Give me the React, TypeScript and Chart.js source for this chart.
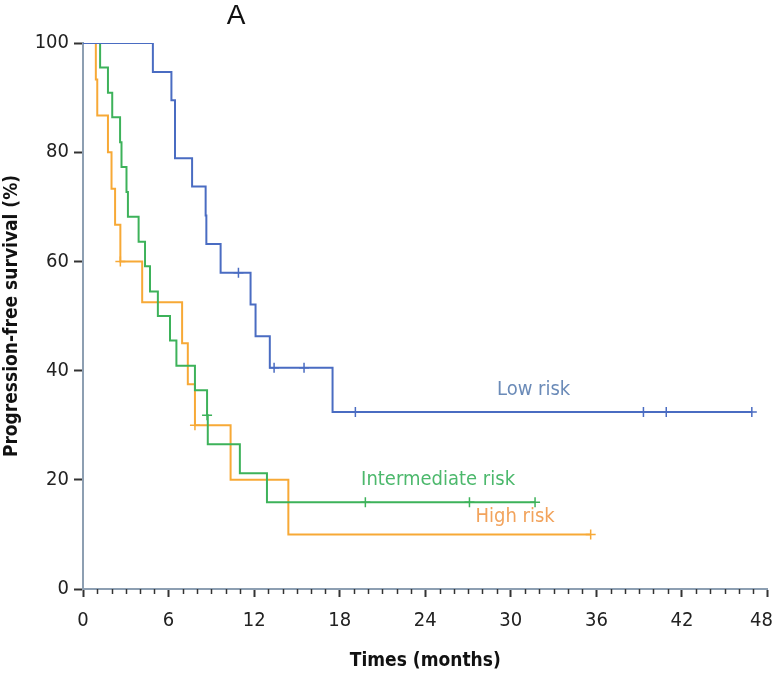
import React, { useEffect, useRef } from 'react';
import { Chart, registerables } from 'chart.js';

Chart.register(...registerables);

// ---- Data (months, % progression-free survival) ----
const lowTimes = [0, 4.9, 6.2, 6.45, 7.65, 8.6, 8.65, 9.65, 11.75, 12.1, 13.1, 17.5, 46.9];
const lowSurv = [100, 94.7, 89.5, 78.9, 73.7, 68.4, 63.2, 57.9, 52.1, 46.3, 40.5, 32.4, 32.4];
const lowCensorTimes = [10.9, 13.4, 15.5, 19.1, 39.3, 40.9, 46.9];
const lowCensorSurv = [57.9, 40.5, 40.5, 32.4, 32.4, 32.4, 32.4];

const intTimes = [0, 1.2, 1.75, 2.05, 2.6, 2.7, 3.05, 3.15, 3.9, 4.35, 4.7, 5.25, 6.1, 6.55, 7.85, 8.7, 8.75, 11.0, 12.9, 31.7];
const intSurv = [100, 95.5, 90.9, 86.4, 81.8, 77.3, 72.7, 68.2, 63.6, 59.1, 54.5, 50.0, 45.5, 40.9, 36.4, 31.8, 26.5, 21.2, 15.9, 15.9];
const intCensorTimes = [8.7, 19.8, 27.1, 31.7];
const intCensorSurv = [31.8, 15.9, 15.9, 15.9];

const highTimes = [0, 0.9, 1.0, 1.75, 2.0, 2.25, 2.62, 4.15, 6.95, 7.35, 7.85, 10.35, 14.4, 35.6];
const highSurv = [100, 93.3, 86.7, 80.0, 73.3, 66.7, 60.0, 52.5, 45.0, 37.5, 30.0, 20.0, 10.0, 10.0];
const highCensorTimes = [2.62, 7.85, 35.6];
const highCensorSurv = [60.0, 30.0, 10.0];

const seriesNames = ['Low risk', 'Intermediate risk', 'High risk'];
const seriesLabelX = [31.6, 24.9, 30.3];
const seriesLabelY = [36.4, 20.0, 13.2];

const xMajorStep = 6;
const xMax = 48;
const yMax = 100;
const yStep = 20;
const panelTitle = 'A';
const xTitle = 'Times (months)';
const yTitle = 'Progression-free survival (%)';

// ---- Styles ----
const lineColors = ['#4a6cc2', '#3db25a', '#f7a936'];
const textColors = ['#6b8bb8', '#4cb86c', '#f2a35c'];
const NARROW = "'Liberation Sans Narrow', 'DejaVu Sans Condensed', 'Roboto Condensed', sans-serif";
const TICK_SIZE = 20;
const TICK_PAD = 12;
const TICK_LEN = 8;

const toPts = (xs: number[], ys: number[]) => xs.map((x, i) => ({ x, y: ys[i] }));

const annotPlugin = {
  id: 'annot',
  afterDraw(chart: any) {
    const ctx = chart.ctx as CanvasRenderingContext2D;
    const xs = chart.scales.x;
    const ys = chart.scales.y;
    ctx.save();
    // minor ticks on x axis
    ctx.strokeStyle = '#333';
    ctx.lineWidth = 1.5;
    const yb = chart.chartArea.bottom;
    xs.ticks.forEach((t: any) => {
      if (t.value % xMajorStep !== 0) {
        const px = Math.round(xs.getPixelForValue(t.value)) + 0.5;
        ctx.beginPath();
        ctx.moveTo(px, yb);
        ctx.lineTo(px, yb + 5);
        ctx.stroke();
      }
    });
    // last x tick label, kept inside the canvas
    ctx.fillStyle = '#222';
    ctx.font = `${TICK_SIZE}px ${NARROW}`;
    ctx.textAlign = 'right';
    ctx.textBaseline = 'top';
    ctx.fillText(String(xMax), chart.width - 1, yb + TICK_LEN + TICK_PAD + 2);
    // panel title
    ctx.fillStyle = '#111';
    ctx.font = "28px 'Liberation Sans', Arial, sans-serif";
    ctx.textAlign = 'center';
    ctx.textBaseline = 'middle';
    ctx.fillText(panelTitle, 236, 16);
    // series labels
    ctx.font = `20px ${NARROW}`;
    seriesNames.forEach((name, i) => {
      ctx.fillStyle = textColors[i];
      ctx.fillText(name, xs.getPixelForValue(seriesLabelX[i]), ys.getPixelForValue(seriesLabelY[i]));
    });
    ctx.restore();
  },
};

export default function App() {
  const ref = useRef<HTMLCanvasElement>(null);
  useEffect(() => {
    document.body.style.margin = '0';
    const lines = [
      [lowTimes, lowSurv],
      [intTimes, intSurv],
      [highTimes, highSurv],
    ];
    const cens = [
      [lowCensorTimes, lowCensorSurv],
      [intCensorTimes, intCensorSurv],
      [highCensorTimes, highCensorSurv],
    ];
    const datasets: any[] = [];
    lines.forEach(([xs, ys], i) => {
      datasets.push({
        label: seriesNames[i],
        data: toPts(xs, ys),
        borderColor: lineColors[i],
        borderWidth: 2,
        pointRadius: 0,
        stepped: true,
        fill: false,
      });
    });
    cens.forEach(([xs, ys], i) => {
      datasets.push({
        label: seriesNames[i] + ' censored',
        data: toPts(xs, ys),
        showLine: false,
        pointStyle: 'cross',
        pointRadius: 5,
        pointBorderColor: lineColors[i],
        pointBorderWidth: 1.5,
        pointBackgroundColor: lineColors[i],
      });
    });
    const chart = new Chart(ref.current!, {
      type: 'line',
      data: { datasets },
      plugins: [annotPlugin],
      options: {
        responsive: false,
        animation: false,
        events: [],
        layout: { padding: { left: 0, top: 43, right: 5, bottom: 0 } },
        plugins: { legend: { display: false }, tooltip: { enabled: false }, title: { display: false } },
        scales: {
          x: {
            type: 'linear',
            min: 0,
            max: xMax,
            ticks: {
              stepSize: 1,
              autoSkip: false,
              maxRotation: 0,
              padding: TICK_PAD,
              color: '#222',
              font: { family: NARROW, size: TICK_SIZE },
              callback: (v: any) => (Number(v) % xMajorStep === 0 && Number(v) !== xMax ? String(v) : ''),
            },
            grid: {
              drawOnChartArea: false,
              drawTicks: true,
              tickLength: TICK_LEN,
              tickWidth: 2,
              tickColor: (c: any) => (c.tick && c.tick.value % xMajorStep === 0 ? '#333' : 'rgba(0,0,0,0)'),
            },
            border: { display: true, color: '#8d9fb2', width: 2 },
            title: {
              display: true,
              text: xTitle,
              color: '#111',
              font: { family: NARROW, size: 19, weight: 'bold' },
              padding: { top: 0, bottom: 1 },
            },
            afterFit: (s: any) => {
              s.height = 84;
              s.paddingLeft = 0;
              s.paddingRight = 0;
            },
          },
          y: {
            type: 'linear',
            min: 0,
            max: yMax,
            ticks: {
              stepSize: yStep,
              padding: 5,
              color: '#222',
              font: { family: NARROW, size: TICK_SIZE },
            },
            grid: {
              drawOnChartArea: false,
              drawTicks: true,
              tickLength: 9,
              tickWidth: 2,
              tickColor: '#333',
            },
            border: { display: true, color: '#8d9fb2', width: 2 },
            title: {
              display: true,
              text: yTitle,
              color: '#111',
              font: { family: NARROW, size: 19, weight: 'bold' },
              padding: { top: 1, bottom: 0 },
            },
            afterFit: (s: any) => {
              s.width = 83;
              s.paddingTop = 0;
              s.paddingBottom = 0;
            },
          },
        },
      },
    });
    return () => chart.destroy();
  }, []);
  return (
    <div style={{ position: 'absolute', left: 0, top: 0, width: 774, height: 673 }}>
      <canvas ref={ref} width={774} height={673} />
    </div>
  );
}
